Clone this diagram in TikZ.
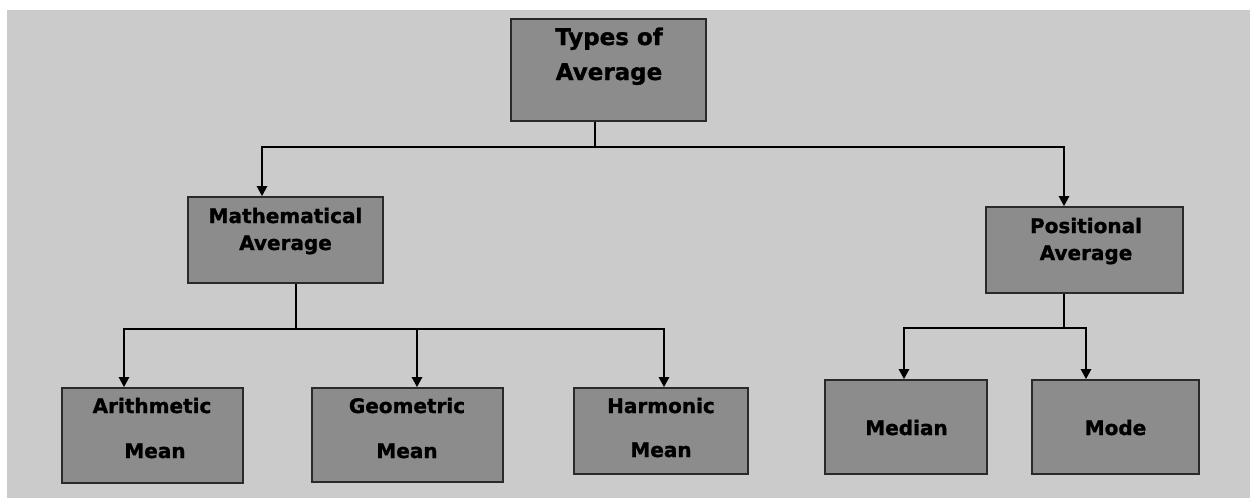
\documentclass[tikz,border=0pt]{standalone}
\usepackage{fontspec}
\setmainfont{DejaVu Sans}
\usetikzlibrary{arrows.meta}
\definecolor{bgcol}{HTML}{CBCBCB}
\definecolor{boxfill}{HTML}{8C8C8C}
\definecolor{boxline}{HTML}{2A2A2A}
\begin{document}
\begin{tikzpicture}[x=1pt,y=-1pt,
  box/.style={draw=boxline, fill=boxfill, line width=1.6pt, inner sep=0pt},
  lbl/.style={anchor=base, inner sep=0pt, font=\bfseries\fontsize{20}{24}\selectfont\addfontfeature{FakeBold=1.2}},
  biglbl/.style={anchor=base, inner sep=0pt, font=\bfseries\fontsize{23}{27}\selectfont\addfontfeature{FakeBold=1.2}},
  conn/.style={line width=2.2pt, black, line join=miter},
  arr/.style={conn, -{Triangle[width=10pt,length=10pt]}}]
\useasboundingbox (0,0) rectangle (1250,498);
\fill[white] (0,0) rectangle (1250,498);
\fill[bgcol] (7,10) rectangle (1250,498);
% boxes
\node[box, minimum width=195pt, minimum height=102pt] (top) at (608.5,70) {};
\node[box, minimum width=195pt, minimum height=86pt] (math) at (285.5,240) {};
\node[box, minimum width=197pt, minimum height=86pt] (pos) at (1084.5,250) {};
\node[box, minimum width=181pt, minimum height=95pt] (arith) at (152.5,435.5) {};
\node[box, minimum width=191pt, minimum height=94pt] (geo) at (407.5,435) {};
\node[box, minimum width=174pt, minimum height=86pt] (harm) at (661,431) {};
\node[box, minimum width=162pt, minimum height=94pt] (median) at (906,427) {};
\node[box, minimum width=167pt, minimum height=94pt] (mode) at (1115.5,427) {};
% texts
\node[biglbl] (topA) at (609,45) {Types of};
\node[biglbl] (topB) at (609,80) {Average};
\node[lbl] (mathA) at (285.5,223) {Mathematical};
\node[lbl] (mathB) at (285.5,250) {Average};
\node[lbl] (posA) at (1086,233) {Positional};
\node[lbl] (posB) at (1086,260) {Average};
\node[lbl] (arithA) at (152,413) {Arithmetic};
\node[lbl] (arithB) at (155,458) {Mean};
\node[lbl] (geoA) at (407,413) {Geometric};
\node[lbl] (geoB) at (407,458) {Mean};
\node[lbl] (harmA) at (661,413) {Harmonic};
\node[lbl] (harmB) at (661,457) {Mean};
\node[lbl] (medA) at (906.5,435) {Median};
\node[lbl] (modeA) at (1115.5,435) {Mode};
% connectors
\coordinate (j1) at (595,147);
\coordinate (j2) at (296,329);
\coordinate (j3) at (1064,328);
\draw[conn] ([xshift=-13.5pt]top.south) -- (j1);
\draw[arr] (j1) -| ([xshift=-23.5pt]math.north);
\draw[arr] (j1) -| ([xshift=-20.5pt]pos.north);
\draw[conn] ([xshift=10.5pt]math.south) -- (j2);
\draw[arr] (j2) -| ([xshift=-28.5pt]arith.north);
\draw[arr] (j2) -| ([xshift=9.5pt]geo.north);
\draw[arr] (j2) -| ([xshift=3pt]harm.north);
\draw[conn] ([xshift=-20.5pt]pos.south) -- (j3);
\draw[arr] (j3) -| ([xshift=-2pt]median.north);
\draw[arr] (j3) -| ([xshift=-29.5pt]mode.north);
\end{tikzpicture}
\end{document}
